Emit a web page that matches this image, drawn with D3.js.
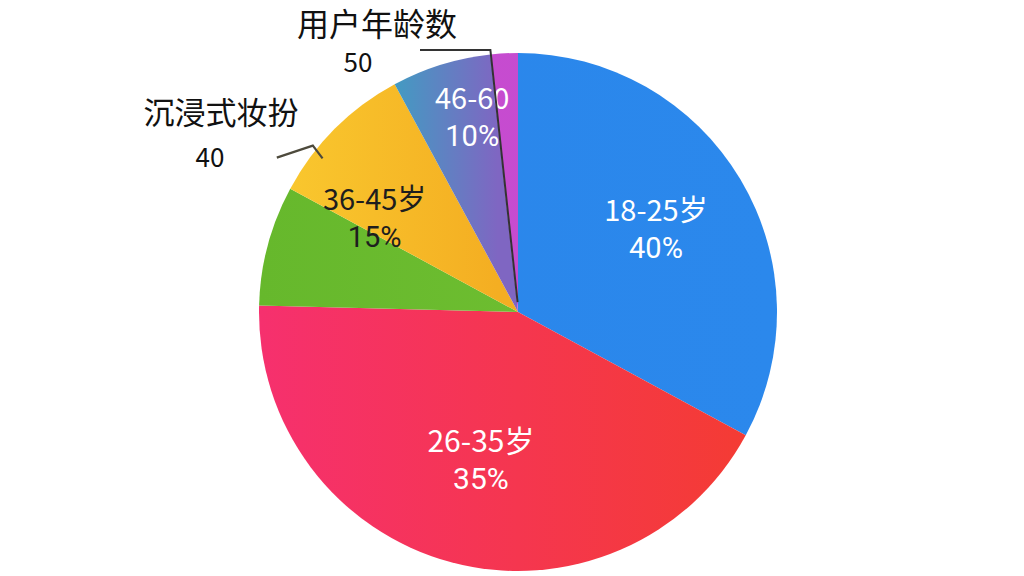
<!DOCTYPE html>
<html>
<head>
<meta charset="utf-8">
<script src="https://cdn.jsdelivr.net/npm/d3@7"></script>
<style>
  html, body { margin: 0; padding: 0; background: #ffffff; }
  svg { display: block; }
  text { font-family: "Noto Sans CJK SC", "Noto Sans", sans-serif; }
  .pct { font-family: Roboto, "Liberation Sans", sans-serif; }
</style>
</head>
<body>
<svg id="chart" width="1024" height="576"></svg>
<script>
// ---- data ----
const categories = ["18-25岁", "26-35岁", "绿色组", "36-45岁", "46-60", "紫色组"];
const values = [32.9, 42.5, 7.5, 9.2, 6.2, 1.7];
const nameLabels = ["18-25岁", "26-35岁", "", "36-45岁", "46-60", ""];
const percentLabels = ["40%", "35%", "", "15%", "10%", ""];
const calloutTitles = ["沉浸式妆扮", "用户年龄数"];
const calloutValues = ["40", "50"];

// ---- layout / style ----
const cx = 518, cy = 312, R = 259;
const colorStops = [
  ["#2a86ea", "#2b88ec"],
  ["#f6306e", "#f43c30"],
  ["#66b82c", "#74c234"],
  ["#f9c72e", "#f4ae22"],
  ["#3f9ec2", "#7f66c2"],
  ["#c84bd2", "#c44ccd"]
];
const gradSpan = [[-R, R], [-R, R], [-R, R], [-230, -20], [-130, -20], [-R, R]];
const labelRadius = [0.62, 0.594, 0.6, 0.66, 0.77, 0.6];
const labelShiftDeg = [0, -1, 0, -12, 4, 0];
const labelFill = ["#ffffff", "#ffffff", "#ffffff", "#1e1e1e", "#ffffff", "#ffffff"];
const labelSize = [29, 30, 29, 29, 29, 29];

const svg = d3.select("#chart");
const defs = svg.append("defs");
colorStops.forEach((c, i) => {
  const g = defs.append("linearGradient")
    .attr("id", "grad" + i)
    .attr("gradientUnits", "userSpaceOnUse")
    .attr("x1", gradSpan[i][0]).attr("y1", 0)
    .attr("x2", gradSpan[i][1]).attr("y2", 0);
  g.append("stop").attr("offset", 0).attr("stop-color", c[0]);
  g.append("stop").attr("offset", 1).attr("stop-color", c[1]);
});

const pie = d3.pie().sort(null).value(d => d)(values);
const arc = d3.arc().innerRadius(0).outerRadius(R);

const g = svg.append("g").attr("transform", `translate(${cx},${cy})`);
g.selectAll("path.slice")
  .data(pie)
  .join("path")
  .attr("class", "slice")
  .attr("d", arc)
  .attr("fill", (d, i) => `url(#grad${i})`);

// inside labels
const polar = (a, r) => [Math.sin(a) * r, -Math.cos(a) * r];
pie.forEach((d, i) => {
  if (!nameLabels[i]) return;
  const a = (d.startAngle + d.endAngle) / 2 + labelShiftDeg[i] * Math.PI / 180;
  const [x, y] = polar(a, R * labelRadius[i]);
  g.append("text")
    .attr("x", x).attr("y", y - 9)
    .attr("text-anchor", "middle")
    .attr("font-size", labelSize[i])
    .attr("fill", labelFill[i])
    .text(nameLabels[i]);
  g.append("text")
    .attr("class", "pct")
    .attr("x", x).attr("y", y + 28)
    .attr("text-anchor", "middle")
    .attr("font-size", labelSize[i])
    .attr("fill", labelFill[i])
    .text(percentLabels[i]);
});

// callout 1: attached near yellow/green edge
{
  const a1 = pie[3].startAngle + 0.17;
  const p0 = polar(a1, R * 0.96);
  const p1 = polar(a1 + 0.015, R * 1.02);
  const p2 = [p1[0] - 36, p1[1] + 12];
  g.append("path")
    .attr("d", d3.line()([p0, p1, p2]))
    .attr("fill", "none").attr("stroke", "#4d4a3c").attr("stroke-width", 2.2);
  svg.append("text").attr("x", 221).attr("y", 124)
    .attr("text-anchor", "middle").attr("font-size", 31).attr("fill", "#111")
    .text(calloutTitles[0]);
  svg.append("text").attr("x", 210).attr("y", 167)
    .attr("text-anchor", "middle").attr("font-size", 26).attr("fill", "#111")
    .text(calloutValues[0]);
}

// callout 2: along slate/magenta boundary
{
  const a2 = pie[5].startAngle;
  const p0 = polar(a2, 4);
  const p1 = polar(a2, R);
  g.append("path")
    .attr("d", d3.line()([[p0[0], p0[1] - 6], [p1[0], 50 - cy], [420 - cx, 50 - cy]]))
    .attr("fill", "none").attr("stroke", "#333").attr("stroke-width", 2);
  svg.append("text").attr("x", 377).attr("y", 36)
    .attr("text-anchor", "middle").attr("font-size", 32).attr("fill", "#111")
    .text(calloutTitles[1]);
  svg.append("text").attr("x", 358).attr("y", 72)
    .attr("text-anchor", "middle").attr("font-size", 26).attr("fill", "#111")
    .text(calloutValues[1]);
}
</script>
</body>
</html>
